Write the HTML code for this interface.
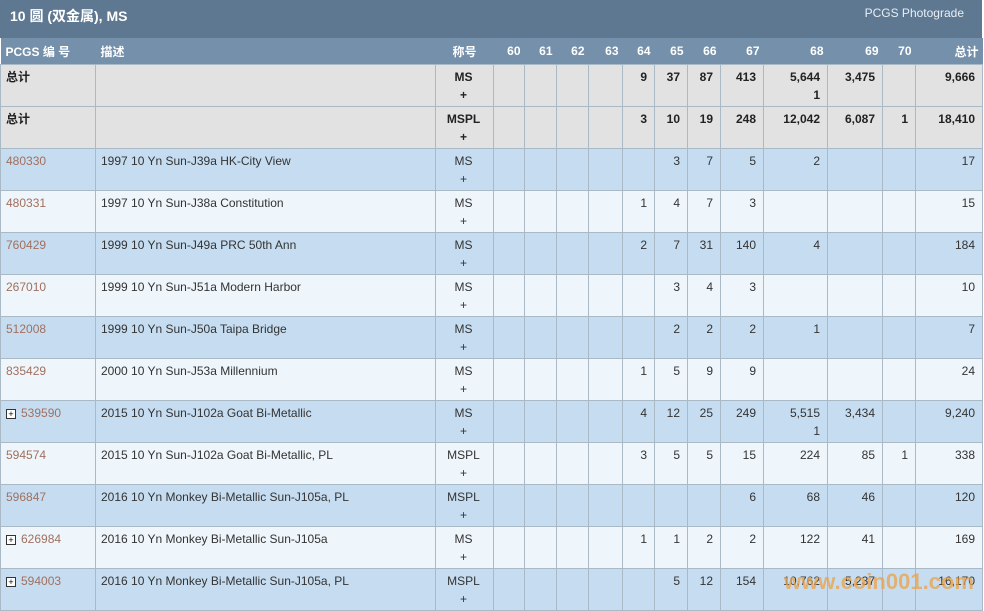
<!DOCTYPE html>
<html><head><meta charset="utf-8"><style>
body{margin:0;width:984px;height:610px;overflow:hidden;background:#fff;font-family:"Liberation Sans","Noto Sans CJK SC",sans-serif;font-size:12px;color:#333}
.top{position:absolute;left:0;top:0;width:982px;height:38px;background:#5e7891;color:#fff}
.top .t{position:absolute;left:10px;top:6px;font-size:14px;font-weight:bold}
.top .r{position:absolute;right:18px;top:6px;font-size:12px;color:#e8eef4}
table{position:absolute;left:0;top:38px;width:982px;border-collapse:collapse;table-layout:fixed}
th{background:#7590aa;color:#fff;height:26px;padding:0 4px;font-weight:bold;text-align:right;border:none;font-size:12px}
td{height:42px;box-sizing:border-box;border:1px solid #aab9c6;vertical-align:top;padding:3px 7px 0 5px;line-height:18px;text-align:right}
td.l{text-align:left}
td.c{text-align:center}
tr.g td{background:#e2e2e2;font-weight:bold;color:#222}
tr.b td{background:#c6ddf1}
tr.w td{background:#eef5fb}
a{color:#a0705f;text-decoration:none}
.pl{display:inline-block;width:8px;height:8px;border:1px solid #333;font-size:9px;line-height:8px;text-align:center;margin-right:5px;vertical-align:0;color:#000;background:#fff}
.wm{position:absolute;left:784px;top:569px;font-size:22px;font-weight:bold;color:rgba(235,160,70,0.75)}
</style></head><body>
<div class="top"><div class="t">10 圆 (双金属), MS</div><div class="r">PCGS Photograde</div></div>
<table>
<colgroup><col style="width:95px"><col style="width:340px"><col style="width:58px"><col style="width:31px"><col style="width:32px"><col style="width:32px"><col style="width:34px"><col style="width:32px"><col style="width:33px"><col style="width:33px"><col style="width:43px"><col style="width:64px"><col style="width:55px"><col style="width:33px"><col style="width:67px"></colgroup>
<tr><th style="text-align:left;padding-left:5px">PCGS 编 号</th><th style="text-align:left;padding-left:5px">描述</th><th style="text-align:center">称号</th><th>60</th><th>61</th><th>62</th><th>63</th><th>64</th><th>65</th><th>66</th><th>67</th><th>68</th><th>69</th><th>70</th><th>总计</th></tr>
<tr class="g"><td class="l">总计</td><td></td><td class="c">MS<br>+</td><td></td><td></td><td></td><td></td><td>9</td><td>37</td><td>87</td><td>413</td><td>5,644<br>1</td><td>3,475</td><td></td><td>9,666</td></tr>
<tr class="g"><td class="l">总计</td><td></td><td class="c">MSPL<br>+</td><td></td><td></td><td></td><td></td><td>3</td><td>10</td><td>19</td><td>248</td><td>12,042</td><td>6,087</td><td>1</td><td>18,410</td></tr>
<tr class="b"><td class="l"><a>480330</a></td><td class="l">1997 10 Yn Sun-J39a HK-City View</td><td class="c">MS<br>+</td><td></td><td></td><td></td><td></td><td></td><td>3</td><td>7</td><td>5</td><td>2</td><td></td><td></td><td>17</td></tr>
<tr class="w"><td class="l"><a>480331</a></td><td class="l">1997 10 Yn Sun-J38a Constitution</td><td class="c">MS<br>+</td><td></td><td></td><td></td><td></td><td>1</td><td>4</td><td>7</td><td>3</td><td></td><td></td><td></td><td>15</td></tr>
<tr class="b"><td class="l"><a>760429</a></td><td class="l">1999 10 Yn Sun-J49a PRC 50th Ann</td><td class="c">MS<br>+</td><td></td><td></td><td></td><td></td><td>2</td><td>7</td><td>31</td><td>140</td><td>4</td><td></td><td></td><td>184</td></tr>
<tr class="w"><td class="l"><a>267010</a></td><td class="l">1999 10 Yn Sun-J51a Modern Harbor</td><td class="c">MS<br>+</td><td></td><td></td><td></td><td></td><td></td><td>3</td><td>4</td><td>3</td><td></td><td></td><td></td><td>10</td></tr>
<tr class="b"><td class="l"><a>512008</a></td><td class="l">1999 10 Yn Sun-J50a Taipa Bridge</td><td class="c">MS<br>+</td><td></td><td></td><td></td><td></td><td></td><td>2</td><td>2</td><td>2</td><td>1</td><td></td><td></td><td>7</td></tr>
<tr class="w"><td class="l"><a>835429</a></td><td class="l">2000 10 Yn Sun-J53a Millennium</td><td class="c">MS<br>+</td><td></td><td></td><td></td><td></td><td>1</td><td>5</td><td>9</td><td>9</td><td></td><td></td><td></td><td>24</td></tr>
<tr class="b"><td class="l"><span class="pl">+</span><a>539590</a></td><td class="l">2015 10 Yn Sun-J102a Goat Bi-Metallic</td><td class="c">MS<br>+</td><td></td><td></td><td></td><td></td><td>4</td><td>12</td><td>25</td><td>249</td><td>5,515<br>1</td><td>3,434</td><td></td><td>9,240</td></tr>
<tr class="w"><td class="l"><a>594574</a></td><td class="l">2015 10 Yn Sun-J102a Goat Bi-Metallic, PL</td><td class="c">MSPL<br>+</td><td></td><td></td><td></td><td></td><td>3</td><td>5</td><td>5</td><td>15</td><td>224</td><td>85</td><td>1</td><td>338</td></tr>
<tr class="b"><td class="l"><a>596847</a></td><td class="l">2016 10 Yn Monkey Bi-Metallic Sun-J105a, PL</td><td class="c">MSPL<br>+</td><td></td><td></td><td></td><td></td><td></td><td></td><td></td><td>6</td><td>68</td><td>46</td><td></td><td>120</td></tr>
<tr class="w"><td class="l"><span class="pl">+</span><a>626984</a></td><td class="l">2016 10 Yn Monkey Bi-Metallic Sun-J105a</td><td class="c">MS<br>+</td><td></td><td></td><td></td><td></td><td>1</td><td>1</td><td>2</td><td>2</td><td>122</td><td>41</td><td></td><td>169</td></tr>
<tr class="b"><td class="l"><span class="pl">+</span><a>594003</a></td><td class="l">2016 10 Yn Monkey Bi-Metallic Sun-J105a, PL</td><td class="c">MSPL<br>+</td><td></td><td></td><td></td><td></td><td></td><td>5</td><td>12</td><td>154</td><td>10,762</td><td>5,237</td><td></td><td>16,170</td></tr>
</table>
<div class="wm">www.coin001.com</div>
</body></html>
